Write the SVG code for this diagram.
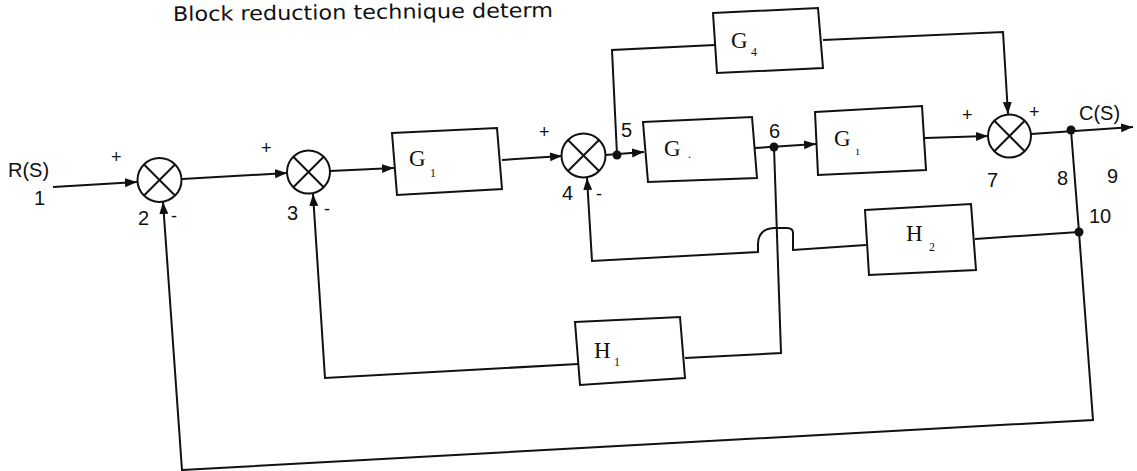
<svg xmlns="http://www.w3.org/2000/svg" width="1137" height="471" viewBox="0 0 1137 471">
<style>
.ln{fill:none;stroke:#111;stroke-width:2;stroke-linejoin:miter}
.bx{fill:#fff;stroke:#111;stroke-width:2}
.sj{fill:#fff;stroke:#111;stroke-width:2}
.x{stroke:#111;stroke-width:2}
.dot{fill:#111}
.lb{font-family:"Liberation Sans",Arial,sans-serif;font-size:20px;fill:#111}
.sg{font-family:"Liberation Sans",Arial,sans-serif;font-size:18px;fill:#111}
.bl{font-family:"Liberation Serif","Times New Roman",serif;font-size:23px;fill:#111}
.sb{font-family:"Liberation Serif","Times New Roman",serif;font-size:12px;fill:#111}
.tt{font-family:"DejaVu Sans",sans-serif;font-size:20px;fill:#111}
</style>
<defs>
<marker id="ah" markerUnits="userSpaceOnUse" markerWidth="13" markerHeight="10" refX="12" refY="5" orient="auto">
<path d="M0,0.5 L12,5 L0,9.5 z" fill="#111"/>
</marker>
</defs>
<rect width="1137" height="471" fill="#fff"/>
<text class="tt" x="173" y="21" transform="rotate(-0.6 173 21)" textLength="380" lengthAdjust="spacingAndGlyphs">Block reduction technique determ</text>

<g id="connectors">
<path class="ln" d="M53,187 L137,182" marker-end="url(#ah)"/>
<path class="ln" d="M182,179 L287,173" marker-end="url(#ah)"/>
<path class="ln" d="M330,171 L394,168" marker-end="url(#ah)"/>
<path class="ln" d="M502,160 L562,156" marker-end="url(#ah)"/>
<path class="ln" d="M605,155 L644,152" marker-end="url(#ah)"/>
<path class="ln" d="M617,155 L612,50 L715,45"/>
<path class="ln" d="M823,40 L1003,32 L1008,114" marker-end="url(#ah)"/>
<path class="ln" d="M755,148 L816,144" marker-end="url(#ah)"/>
<path class="ln" d="M925,138 L988,136" marker-end="url(#ah)"/>
<path class="ln" d="M1031,134 L1133,127" marker-end="url(#ah)"/>
<path class="ln" d="M1071,130 L1079,232 L1093,420 L182,470 L163,202" marker-end="url(#ah)"/>
<path class="ln" d="M1079,232 L975,239"/>
<path class="ln" d="M866,245 L793,250 L793,233 Q793,228 787,228 L774,228 Q758,229 758,244 L758,252 L592,261 L587,178" marker-end="url(#ah)"/>
<path class="ln" d="M774,147 L781,353 L685,358"/>
<path class="ln" d="M578,364 L325,378 L313,194" marker-end="url(#ah)"/>
<circle class="dot" cx="617" cy="155" r="4.5"/>
<circle class="dot" cx="774" cy="147" r="4.5"/>
<circle class="dot" cx="1071" cy="130" r="4.5"/>
<circle class="dot" cx="1079" cy="232" r="4.5"/>
</g>

<g id="sum2">
<circle class="sj" cx="159.5" cy="180" r="22"/>
<path class="x" d="M144,164.5 L175,195.5 M175,164.5 L144,195.5"/>
</g>
<g id="sum3">
<circle class="sj" cx="308.5" cy="172" r="21.5"/>
<path class="x" d="M293.3,156.8 L323.7,187.2 M323.7,156.8 L293.3,187.2"/>
</g>
<g id="sum4">
<circle class="sj" cx="583.5" cy="155.5" r="22"/>
<path class="x" d="M568,140 L599,171 M599,140 L568,171"/>
</g>
<g id="sum7">
<circle class="sj" cx="1009.5" cy="136" r="21.5"/>
<path class="x" d="M994.3,120.8 L1024.7,151.2 M1024.7,120.8 L994.3,151.2"/>
</g>

<g id="G1">
<polygon class="bx" points="392,133 497,128 502,189 397,195"/>
<text class="bl" x="409" y="166">G</text><text class="sb" x="430" y="177">1</text>
</g>
<g id="G2">
<polygon class="bx" points="643,122 752,117 757,178 648,182"/>
<text class="bl" x="664" y="156">G</text><text class="sb" x="688" y="158">.</text>
</g>
<g id="G3">
<polygon class="bx" points="815,112 922,106 926,170 818,175"/>
<text class="bl" x="834" y="146">G</text><text class="sb" x="856" y="155">ı</text>
</g>
<g id="G4">
<polygon class="bx" points="713,13 818,8 823,68 717,73"/>
<text class="bl" x="731" y="48">G</text><text class="sb" x="751" y="56">4</text>
</g>
<g id="H1">
<polygon class="bx" points="575,322 680,317 685,378 580,385"/>
<text class="bl" x="594" y="358">H</text><text class="sb" x="614" y="366">1</text>
</g>
<g id="H2">
<polygon class="bx" points="865,210 971,204 976,270 869,275"/>
<text class="bl" x="906" y="241">H</text><text class="sb" x="929" y="251">2</text>
</g>

<g id="labels">
<text class="lb" x="8" y="177">R(S)</text>
<text class="lb" x="34" y="205">1</text>
<text class="sg" x="111" y="163">+</text>
<text class="lb" x="138" y="225">2</text>
<text class="sg" x="171" y="222">-</text>
<text class="sg" x="261" y="154">+</text>
<text class="lb" x="287" y="220">3</text>
<text class="sg" x="324" y="215">-</text>
<text class="sg" x="539" y="138">+</text>
<text class="lb" x="562" y="200">4</text>
<text class="sg" x="596" y="200">-</text>
<text class="lb" x="621" y="137">5</text>
<text class="lb" x="769" y="138">6</text>
<text class="sg" x="962" y="121">+</text>
<text class="sg" x="1029" y="118">+</text>
<text class="lb" x="987" y="187">7</text>
<text class="lb" x="1057" y="185">8</text>
<text class="lb" x="1107" y="183">9</text>
<text class="lb" x="1089" y="223">10</text>
<text class="lb" x="1079" y="120">C(S)</text>
</g>
</svg>
